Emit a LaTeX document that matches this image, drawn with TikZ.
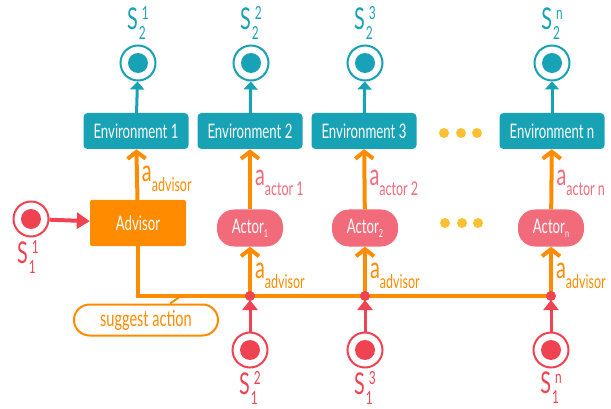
\documentclass[tikz,border=0pt]{standalone}
\usepackage{fontspec}
\setmainfont{Lato}[FakeStretch=0.66]
\usepackage{xcolor}
\usetikzlibrary{arrows.meta,positioning,shapes.misc}

\definecolor{envteal}{HTML}{17A2B6}
\definecolor{advorange}{HTML}{FF8C00}
\definecolor{sred}{HTML}{EF4351}
\definecolor{actpink}{HTML}{F16B7A}
\definecolor{dotyellow}{HTML}{FCC133}

\newcommand{\envfont}{\fontsize{20}{20}\selectfont}
\newcommand{\subsz}{\fontsize{18}{18}\selectfont}
\newcommand{\slab}[2]{S\makebox[0pt][l]{\hspace{1pt}\raisebox{-10pt}{\subsz #1}}\hspace{4pt}\raisebox{10pt}{\subsz #2}}
\newcommand{\asub}[1]{{\fontsize{30}{30}\selectfont a}\raisebox{-10pt}{\fontsize{19}{19}\selectfont #1}}
\newcommand{\actsub}[1]{Actor\raisebox{-4pt}{\fontsize{11}{11}\selectfont #1}}

\begin{document}
\begin{tikzpicture}[x=1pt, y=-1pt,
    env/.style={fill=envteal, text=white, rounded corners=4pt, minimum width=105pt, minimum height=36pt, inner sep=0pt, font=\envfont},
    advbox/.style={fill=advorange, text=white, rounded corners=2pt, minimum width=96pt, minimum height=46pt, inner sep=0pt, font=\envfont},
    actbox/.style={fill=actpink, text=white, rounded corners=17pt, minimum width=66pt, minimum height=37pt, inner sep=0pt, font=\envfont},
    suggbox/.style={draw=advorange, line width=2pt, fill=white, text=advorange, rounded rectangle, minimum width=144pt, minimum height=31pt, inner sep=0pt, font=\fontsize{22}{22}\selectfont},
    obs/.style={circle, draw=#1, line width=2pt, fill=white, minimum size=35pt, inner sep=0pt,
        path picture={\fill[#1] (path picture bounding box.center) circle (10pt);}},
    slabel/.style={font=\fontsize{30}{30}\selectfont, inner sep=0pt},
    actlab/.style={anchor=west, xshift=3pt, yshift=-4pt, inner sep=0pt},
    ydot/.style={circle, fill=dotyellow, minimum size=10pt, inner sep=0pt},
    jdot/.style={circle, fill=sred, minimum size=10pt, inner sep=0pt},
    tealarr/.style={draw=envteal, line width=3pt, -{Triangle[length=8pt,width=14pt]}},
    orarr/.style={draw=advorange, line width=4pt, -{Straight Barb[length=7pt,width=18pt]}},
    redarr/.style={draw=sred, line width=4pt, -{Triangle[length=13pt,width=16pt]}},
    redarrs/.style={draw=sred, line width=3pt, -{Triangle[length=10pt,width=15pt]}, shorten >=4pt},
    bus/.style={draw=advorange, line width=4pt}]
    \useasboundingbox (0,0) rectangle (611,409);

    % Environments and next states
    \node [env] (env1) at (136,131) {Environment 1};
    \node [env] (env2) at (250,131) {Environment 2};
    \node [env] (env3) at (364,131) {Environment 3};
    \node [env] (envn) at (552,131) {Environment n};
    \node [ydot] (edot1) at (444,133) {};
    \node [ydot] (edot2) at (461,133) {};
    \node [ydot] (edot3) at (477,133) {};

    \node [obs=envteal] (next1) at (138,63) {};
    \node [obs=envteal] (next2) at (251,63) {};
    \node [obs=envteal] (next3) at (365,63) {};
    \node [obs=envteal] (nextn) at (552,63) {};
    \node [slabel, text=envteal, above=5pt of next1] (lnext1) {\slab{2}{1}};
    \node [slabel, text=envteal, above=5pt of next2] (lnext2) {\slab{2}{2}};
    \node [slabel, text=envteal, above=5pt of next3] (lnext3) {\slab{2}{3}};
    \node [slabel, text=envteal, above=5pt of nextn] (lnextn) {\slab{2}{n}};

    \draw [tealarr] (env1) -- (next1);
    \draw [tealarr] (env2) -- (next2);
    \draw [tealarr] (env3) -- (next3);
    \draw [tealarr] (envn) -- (nextn);

    % Advisor and actors
    \node [advbox] (adv) at (138,223) {Advisor};
    \node [actbox] (act1) at (250,228) {\actsub{1}};
    \node [actbox] (act2) at (365,228) {\actsub{2}};
    \node [actbox] (actn) at (551,228) {\actsub{n}};
    \node [ydot] (adot1) at (445,223) {};
    \node [ydot] (adot2) at (462,223) {};
    \node [ydot] (adot3) at (478,223) {};

    \draw [orarr] (adv) -- node [actlab, text=advorange] {\asub{advisor}} (env1);
    \draw [orarr] (act1) -- node [actlab, text=actpink] {\asub{actor 1}} (env2);
    \draw [orarr] (act2) -- node [actlab, text=actpink] {\asub{actor 2}} (env3);
    \draw [orarr] (actn) -- node [actlab, text=actpink] {\asub{actor n}} (envn);

    % Current states
    \node [obs=sred] (cur1) at (31,219) {};
    \node [slabel, text=sred, below=3pt of cur1, xshift=-3pt] (lcur1) {\slab{1}{1}};
    \draw [redarr] (cur1) -- (adv);

    % Suggested action bus
    \coordinate (j1) at (250,296);
    \coordinate (j2) at (365,296);
    \coordinate (jn) at (551,296);
    \coordinate (jsugg) at (181,296);
    \draw [bus] (adv.south) |- (jn);
    \node [suggbox] (sugg) at (146,320) {suggest action};
    \draw [draw=advorange, line width=2pt] (jsugg) -- (sugg);

    \draw [orarr] (j1) -- node [actlab, text=advorange] {\asub{advisor}} (act1);
    \draw [orarr] (j2) -- node [actlab, text=advorange] {\asub{advisor}} (act2);
    \draw [orarr] (jn) -- node [actlab, text=advorange] {\asub{advisor}} (actn);

    \node [obs=sred] (cur2) at (250,350) {};
    \node [obs=sred] (cur3) at (365,350) {};
    \node [obs=sred] (curn) at (551,350) {};
    \node [slabel, text=sred, below=3pt of cur2] (lcur2) {\slab{1}{2}};
    \node [slabel, text=sred, below=3pt of cur3] (lcur3) {\slab{1}{3}};
    \node [slabel, text=sred, below=3pt of curn] (lcurn) {\slab{1}{n}};

    \draw [redarrs] (cur2) -- (j1);
    \draw [redarrs] (cur3) -- (j2);
    \draw [redarrs] (curn) -- (jn);
    \node [jdot] (jd1) at (j1) {};
    \node [jdot] (jd2) at (j2) {};
    \node [jdot] (jdn) at (jn) {};

\end{tikzpicture}
\end{document}
